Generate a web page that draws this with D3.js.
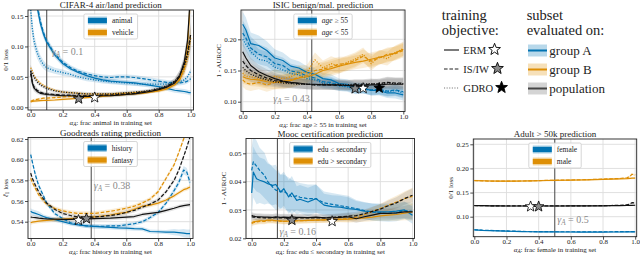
<!DOCTYPE html>
<html><head><meta charset="utf-8">
<script src="https://cdn.jsdelivr.net/npm/d3@7"></script>
<style>body{margin:0;background:#fff}svg{display:block}text{font-family:"Liberation Serif","DejaVu Serif",serif;fill:#222}</style>
</head><body><svg id="c" width="640" height="258"></svg>
<script>
// ---------------- DATA ----------------
const xTicks = [0, 0.2, 0.4, 0.6, 0.8, 1.0];
const objectives = ['ERM', 'IS/IW', 'GDRO'];
const subsets = ['group A', 'group B', 'population'];

// CIFAR-4
const cifarAlpha = [0,0.01,0.02,0.04,0.06,0.08,0.1,0.15,0.2,0.25,0.3,0.35,0.4,0.45,0.5,0.55,0.6,0.65,0.7,0.75,0.8,0.85,0.9,0.93,0.96,0.98,0.99,1.0];
const cifarA_ERM  = [0.45,0.32,0.24,0.165,0.138,0.12,0.107,0.086,0.072,0.063,0.057,0.052,0.048,0.045,0.043,0.042,0.041,0.04,0.038,0.036,0.034,0.031,0.028,0.027,0.026,0.025,0.024,0.024];
const cifarA_IW   = [0.45,0.33,0.25,0.17,0.142,0.123,0.109,0.088,0.074,0.065,0.059,0.055,0.052,0.05,0.049,0.05,0.05,0.049,0.047,0.045,0.043,0.041,0.04,0.04,0.041,0.043,0.045,0.047];
const cifarA_GDRO = [0.16,0.13,0.11,0.09,0.078,0.07,0.065,0.06,0.057,0.054,0.05,0.047,0.045,0.043,0.042,0.041,0.04,0.039,0.038,0.038,0.038,0.038,0.04,0.042,0.045,0.05,0.055,0.06];
const cifarB_ERM  = [0.009,0.0095,0.01,0.0105,0.011,0.0112,0.0115,0.012,0.013,0.014,0.015,0.016,0.017,0.018,0.019,0.02,0.021,0.022,0.023,0.025,0.027,0.03,0.037,0.045,0.065,0.1,0.14,0.2];
const cifarB_IW   = [0.01,0.011,0.012,0.013,0.014,0.015,0.015,0.016,0.017,0.018,0.018,0.019,0.02,0.02,0.021,0.022,0.023,0.024,0.025,0.026,0.028,0.032,0.04,0.048,0.065,0.085,0.1,0.12];
const cifarB_GDRO = [0.065,0.06,0.052,0.045,0.04,0.036,0.033,0.028,0.025,0.024,0.023,0.022,0.022,0.022,0.022,0.023,0.023,0.024,0.025,0.026,0.028,0.031,0.038,0.045,0.06,0.08,0.095,0.115];
const cifarP_ERM  = [0.06,0.04,0.032,0.026,0.023,0.022,0.021,0.02,0.019,0.019,0.018,0.018,0.018,0.019,0.019,0.02,0.021,0.022,0.024,0.026,0.029,0.033,0.04,0.05,0.075,0.11,0.15,0.2];
const cifarP_IW   = [0.055,0.042,0.034,0.028,0.025,0.023,0.022,0.021,0.02,0.02,0.019,0.019,0.019,0.02,0.02,0.021,0.022,0.023,0.025,0.027,0.03,0.034,0.042,0.052,0.07,0.09,0.105,0.12];
const cifarP_GDRO = [0.06,0.055,0.05,0.042,0.037,0.034,0.031,0.027,0.025,0.024,0.023,0.022,0.022,0.022,0.022,0.023,0.024,0.025,0.026,0.028,0.031,0.035,0.043,0.052,0.068,0.085,0.1,0.115];
const cifarBandA  = [0.02,0.015,0.012,0.01,0.008,0.007,0.006,0.005,0.005,0.004,0.004,0.004,0.004,0.004,0.004,0.004,0.004,0.004,0.004,0.004,0.004,0.004,0.004,0.004,0.004,0.004,0.004,0.004];
const cifarBandB  = [0.002,0.002,0.002,0.002,0.002,0.002,0.002,0.002,0.002,0.002,0.002,0.002,0.002,0.002,0.002,0.002,0.002,0.002,0.002,0.002,0.003,0.003,0.004,0.006,0.01,0.012,0.015,0.015];
const cifarBandP  = [0.01,0.008,0.006,0.004,0.003,0.003,0.003,0.003,0.003,0.003,0.003,0.003,0.003,0.003,0.003,0.003,0.003,0.003,0.003,0.003,0.003,0.004,0.005,0.008,0.012,0.015,0.02,0.02];
const cifarYTicks = [0, 0.05, 0.10, 0.15];
const cifarGroups = ['animal', 'vehicle'];
const cifarGamma = 0.1;
const cifarStarAlpha = [0.4, 0.3], cifarStarVal = [0.016, 0.014], cifarStarObj = ['ERM', 'IS/IW'];

// ISIC
const isicAlpha = [0,0.02,0.05,0.1,0.15,0.2,0.25,0.3,0.35,0.4,0.45,0.5,0.55,0.6,0.65,0.7,0.75,0.8,0.85,0.9,0.95,1.0];
const isicA_ERM  = [0.224,0.215,0.193,0.19,0.182,0.17,0.166,0.157,0.154,0.147,0.144,0.137,0.135,0.129,0.128,0.123,0.122,0.118,0.118,0.114,0.114,0.111];
const isicA_IW   = [0.21,0.202,0.186,0.176,0.172,0.161,0.158,0.149,0.147,0.141,0.138,0.132,0.131,0.126,0.125,0.121,0.121,0.119,0.12,0.117,0.119,0.116];
const isicA_GDRO = [0.2,0.192,0.18,0.168,0.165,0.155,0.151,0.145,0.143,0.137,0.135,0.13,0.129,0.125,0.124,0.12,0.121,0.118,0.119,0.116,0.118,0.114];
const isicB_ERM  = [0.14,0.138,0.136,0.135,0.132,0.131,0.133,0.134,0.138,0.14,0.144,0.15,0.153,0.157,0.16,0.163,0.165,0.168,0.171,0.174,0.178,0.184];
const isicB_IW   = [0.135,0.13,0.128,0.131,0.127,0.131,0.131,0.135,0.139,0.142,0.15,0.152,0.156,0.16,0.161,0.166,0.173,0.165,0.17,0.176,0.177,0.182];
const isicB_GDRO = [0.146,0.141,0.14,0.137,0.134,0.141,0.137,0.14,0.146,0.147,0.167,0.154,0.161,0.157,0.163,0.168,0.176,0.161,0.172,0.169,0.179,0.185];
const isicP_ERM  = [0.18,0.17,0.158,0.148,0.142,0.137,0.133,0.131,0.13,0.128,0.128,0.127,0.127,0.127,0.126,0.126,0.126,0.127,0.127,0.128,0.128,0.128];
const isicP_IW   = [0.165,0.158,0.15,0.143,0.138,0.134,0.132,0.13,0.129,0.128,0.127,0.127,0.127,0.126,0.126,0.127,0.127,0.128,0.129,0.131,0.13,0.13];
const isicP_GDRO = [0.155,0.15,0.144,0.139,0.135,0.132,0.13,0.129,0.128,0.128,0.127,0.128,0.127,0.128,0.127,0.128,0.128,0.129,0.128,0.13,0.129,0.129];
const isicBandA  = [0.02,0.02,0.018,0.016,0.015,0.014,0.013,0.012,0.011,0.01,0.01,0.009,0.009,0.008,0.008,0.008,0.008,0.008,0.008,0.008,0.009,0.009];
const isicBandB  = [0.011,0.011,0.011,0.011,0.011,0.011,0.011,0.012,0.012,0.012,0.012,0.012,0.012,0.012,0.011,0.011,0.011,0.011,0.011,0.011,0.011,0.011];
const isicBandP  = [0.015,0.014,0.012,0.011,0.01,0.009,0.009,0.008,0.008,0.008,0.008,0.008,0.008,0.008,0.008,0.008,0.008,0.008,0.008,0.009,0.009,0.009];
const isicYTicks = [0.10, 0.15, 0.20];
const isicGroups = ['age ≥ 55', 'age < 55'];
const isicGamma = 0.43;
const isicStarAlpha = [0.70, 0.75, 0.85], isicStarVal = [0.121, 0.1215, 0.122], isicStarObj = ['IS/IW', 'ERM', 'GDRO'];

// Goodreads
const goodAlpha = [0,0.01,0.03,0.05,0.08,0.1,0.15,0.2,0.25,0.3,0.35,0.4,0.45,0.5,0.55,0.6,0.65,0.7,0.75,0.8,0.85,0.9,0.93,0.96,0.98,1.0];
const goodA_ERM = [0.55,0.549,0.548,0.547,0.545,0.544,0.542,0.54,0.538,0.537,0.536,0.5355,0.535,0.5345,0.534,0.5338,0.5333,0.533,0.5305,0.5303,0.53,0.53,0.5295,0.529,0.5285,0.5285];
const goodA_IW  = [0.605,0.598,0.585,0.575,0.565,0.558,0.548,0.543,0.539,0.537,0.536,0.5355,0.5355,0.536,0.536,0.537,0.538,0.54,0.544,0.549,0.558,0.57,0.578,0.59,0.588,0.578];
const goodB_ERM = [0.539,0.5395,0.54,0.5405,0.541,0.5412,0.542,0.5425,0.543,0.5435,0.544,0.5447,0.5455,0.5465,0.548,0.549,0.552,0.555,0.556,0.558,0.561,0.565,0.568,0.571,0.572,0.5735];
const goodB_IW  = [0.582,0.578,0.572,0.566,0.56,0.557,0.553,0.5505,0.549,0.548,0.548,0.548,0.549,0.55,0.5515,0.553,0.555,0.558,0.562,0.569,0.582,0.595,0.607,0.62,0.63,0.64];
const goodP_ERM = [0.5445,0.5443,0.544,0.5435,0.543,0.5428,0.5425,0.5423,0.5423,0.5425,0.5428,0.543,0.5432,0.5435,0.544,0.5445,0.545,0.547,0.548,0.549,0.551,0.553,0.5545,0.5555,0.556,0.5565];
const goodP_IW  = [0.587,0.582,0.575,0.569,0.562,0.558,0.552,0.548,0.546,0.5445,0.5442,0.5445,0.5452,0.546,0.547,0.549,0.551,0.554,0.557,0.561,0.569,0.58,0.59,0.603,0.612,0.622];
const goodBandA = [0.003,0.003,0.003,0.003,0.002,0.002,0.002,0.002,0.002,0.002,0.002,0.002,0.002,0.002,0.002,0.002,0.002,0.002,0.002,0.002,0.002,0.003,0.003,0.004,0.004,0.004];
const goodBandB = [0.002,0.002,0.002,0.002,0.002,0.002,0.002,0.002,0.002,0.002,0.002,0.002,0.002,0.002,0.002,0.002,0.002,0.002,0.002,0.002,0.002,0.002,0.002,0.002,0.002,0.002];
const goodBandP = [0.002,0.002,0.002,0.002,0.002,0.002,0.002,0.002,0.002,0.002,0.002,0.002,0.002,0.002,0.002,0.002,0.002,0.002,0.002,0.002,0.002,0.002,0.002,0.002,0.002,0.002];
const goodYTicks = [0.54, 0.56, 0.58, 0.60, 0.62];
const goodGroups = ['history', 'fantasy'];
const goodGamma = 0.38;
const goodStarAlpha = [0.3, 0.35], goodStarVal = [0.5415, 0.543], goodStarObj = ['ERM', 'IS/IW'];

// Mooc
const moocAlpha = [0,0.01,0.03,0.05,0.08,0.1,0.13,0.15,0.18,0.2,0.23,0.25,0.28,0.3,0.35,0.4,0.45,0.5,0.55,0.6,0.65,0.7,0.75,0.8,0.85,0.9,0.95,1.0];
const moocA_ERM = [0.036,0.0434,0.041,0.0405,0.0399,0.0393,0.0387,0.039,0.0364,0.0375,0.0346,0.036,0.0334,0.0338,0.0328,0.034,0.0317,0.0312,0.031,0.0305,0.0302,0.0296,0.0294,0.0293,0.0293,0.0296,0.03,0.0281];
const moocA_IW  = [0.044,0.047,0.0455,0.044,0.0422,0.04,0.0381,0.037,0.0364,0.0365,0.0355,0.0346,0.035,0.0345,0.034,0.034,0.0325,0.032,0.0315,0.031,0.0305,0.0298,0.0292,0.029,0.0288,0.029,0.0298,0.0295];
const moocB_ERM = [0.0255,0.0258,0.026,0.0262,0.0262,0.0264,0.0264,0.0262,0.0262,0.026,0.0261,0.026,0.0262,0.0262,0.0263,0.0264,0.0265,0.0266,0.0267,0.0268,0.027,0.0272,0.0275,0.0279,0.0282,0.0284,0.0289,0.0293];
const moocB_IW  = [0.0252,0.0255,0.0258,0.026,0.026,0.0262,0.0262,0.0262,0.026,0.026,0.026,0.0261,0.0262,0.0262,0.0263,0.0264,0.0265,0.0267,0.0268,0.027,0.0275,0.0283,0.0295,0.0305,0.0317,0.0328,0.034,0.0348];
const moocP_ERM = [0.0281,0.0278,0.0276,0.0276,0.0275,0.0275,0.0274,0.0276,0.0274,0.0275,0.0274,0.0276,0.0274,0.0274,0.0273,0.0275,0.0272,0.0272,0.0274,0.0276,0.0269,0.0276,0.0282,0.0288,0.0288,0.029,0.0293,0.0293];
const moocP_IW  = [0.0276,0.0275,0.0274,0.0273,0.0272,0.0272,0.0272,0.0273,0.0272,0.0272,0.0272,0.0272,0.0272,0.0272,0.0272,0.0272,0.0272,0.0274,0.0276,0.0278,0.028,0.0287,0.0295,0.0303,0.0315,0.0325,0.034,0.0352];
const moocBandA = [0.008,0.009,0.009,0.008,0.008,0.007,0.007,0.007,0.006,0.006,0.006,0.006,0.005,0.005,0.005,0.005,0.004,0.004,0.004,0.004,0.003,0.003,0.003,0.003,0.003,0.003,0.003,0.003];
const moocBandB = [0.001,0.001,0.001,0.001,0.001,0.001,0.001,0.001,0.001,0.001,0.001,0.001,0.001,0.001,0.001,0.001,0.001,0.001,0.001,0.0012,0.0013,0.0014,0.0015,0.0017,0.002,0.0022,0.0025,0.003];
const moocBandP = [0.0012,0.0012,0.0012,0.0012,0.0012,0.0012,0.0012,0.0012,0.0012,0.0012,0.0012,0.0012,0.0012,0.0012,0.0012,0.0012,0.0012,0.0012,0.0012,0.0013,0.0014,0.0015,0.0016,0.0017,0.0018,0.002,0.0022,0.0025];
const moocYTicks = [0.02, 0.03, 0.04, 0.05];
const moocGroups = ['edu ≤ secondary', 'edu > secondary'];
const moocGamma = 0.16;
const moocStarAlpha = [0.25, 0.5], moocStarVal = [0.0264, 0.026], moocStarObj = ['IS/IW', 'ERM'];

// Adult
const adultAlpha = [0,0.05,0.1,0.15,0.2,0.25,0.3,0.35,0.4,0.45,0.5,0.55,0.6,0.65,0.7,0.75,0.8,0.85,0.9,0.95,0.97,0.98,1.0];
const adultA_ERM = [0.0725,0.0715,0.071,0.0705,0.07,0.0695,0.069,0.0688,0.0686,0.0685,0.0684,0.0683,0.0683,0.0682,0.0682,0.0682,0.0682,0.0683,0.0683,0.0684,0.0685,0.0686,0.0686];
const adultA_IW  = [0.073,0.072,0.0715,0.071,0.0705,0.07,0.0695,0.0692,0.069,0.069,0.0688,0.0688,0.0688,0.0688,0.0688,0.0688,0.0688,0.0688,0.069,0.069,0.0695,0.069,0.0692];
const adultB_ERM = [0.1748,0.1745,0.174,0.1738,0.1737,0.1738,0.174,0.1742,0.1745,0.175,0.1752,0.1755,0.1758,0.176,0.1765,0.177,0.1775,0.178,0.1785,0.179,0.1795,0.1798,0.18];
const adultB_IW  = [0.175,0.1742,0.1738,0.1737,0.1737,0.1738,0.174,0.1743,0.1747,0.1752,0.1755,0.1758,0.176,0.1763,0.1768,0.1773,0.1778,0.1785,0.179,0.1805,0.1845,0.188,0.1865];
const adultP_ERM = [0.123,0.1228,0.1225,0.1223,0.1222,0.1222,0.1222,0.1222,0.1222,0.1222,0.1222,0.1222,0.1223,0.1223,0.1224,0.1225,0.1226,0.1228,0.123,0.1232,0.1234,0.1235,0.1237];
const adultP_IW  = [0.1232,0.123,0.1226,0.1224,0.1223,0.1223,0.1223,0.1223,0.1223,0.1223,0.1223,0.1223,0.1224,0.1225,0.1226,0.1227,0.1229,0.1232,0.1236,0.1245,0.127,0.129,0.1285];
const adultBandA = [0.001,0.001,0.001,0.001,0.001,0.001,0.001,0.001,0.001,0.001,0.001,0.001,0.001,0.001,0.001,0.001,0.001,0.001,0.001,0.001,0.001,0.001,0.001];
const adultBandB = [0.0015,0.0015,0.0015,0.0015,0.0015,0.0015,0.0015,0.0015,0.0015,0.0015,0.0015,0.0015,0.0015,0.0015,0.0015,0.0015,0.0015,0.0015,0.0015,0.0015,0.002,0.002,0.002];
const adultBandP = [0.0012,0.0012,0.0012,0.0012,0.0012,0.0012,0.0012,0.0012,0.0012,0.0012,0.0012,0.0012,0.0012,0.0012,0.0012,0.0012,0.0012,0.0012,0.0012,0.0012,0.0015,0.0015,0.0015];
const adultYTicks = [0.10, 0.15, 0.20, 0.25];
const adultGroups = ['female', 'male'];
const adultGamma = 0.5;
const adultStarAlpha = [0.35, 0.4], adultStarVal = [0.121, 0.121], adultStarObj = ['ERM', 'IS/IW'];

// ---------------- STYLE ----------------
const COL = {A: '#0173B2', B: '#DE8F05', P: '#111111'};
const BANDCOL = {A: '#0173B2', B: '#DE8F05', P: '#666666'};
const DASH = {'ERM': null, 'IS/IW': '3.6,1.8', 'GDRO': '1.1,1.5'};
const STARFILL = {'ERM': '#ffffff', 'IS/IW': '#8a8a8a', 'GDRO': '#000000'};

const svg = d3.select('#c');

function starPath(cx, cy, R) {
  const r = R * 0.42, pts = [];
  for (let k = 0; k < 10; k++) {
    const a = -Math.PI / 2 + k * Math.PI / 5, rr = k % 2 ? r : R;
    pts.push([cx + rr * Math.cos(a), cy + rr * Math.sin(a)]);
  }
  return 'M' + pts.map(p => p[0].toFixed(2) + ',' + p[1].toFixed(2)).join('L') + 'Z';
}

function rich(sel, segs, size) {
  let shifted = 0;
  segs.forEach(s => {
    const t = sel.append('tspan').text(s.t);
    if (s.i) t.attr('font-style', 'italic');
    const want = s.sub ? size * 0.2 : 0;
    if (want !== shifted) { t.attr('dy', want - shifted); shifted = want; }
    if (s.sub) t.attr('font-size', size * 0.72);
  });
}
const alphaA = [{t: 'α', i: true}, {t: 'A', i: true, sub: true}];

const panels = [
  {id: 'cifar', title: 'CIFAR-4 air/land prediction', L: 28, R: 193.5, T: 10, B: 110, x0: 30.7, x1: 190.7,
   yDom: [0, 0.15], yRange: [107.3, 16], yTicks: cifarYTicks, alpha: cifarAlpha,
   series: [['A','ERM',cifarA_ERM],['A','IS/IW',cifarA_IW],['A','GDRO',cifarA_GDRO],
            ['B','ERM',cifarB_ERM],['B','IS/IW',cifarB_IW],['B','GDRO',cifarB_GDRO],
            ['P','ERM',cifarP_ERM],['P','IS/IW',cifarP_IW],['P','GDRO',cifarP_GDRO]],
   bands: {A: cifarBandA, B: cifarBandB, P: cifarBandP}, groups: cifarGroups, groupItalic: false,
   gamma: cifarGamma, gammaDx: 5, gammaY: 55, gammaAnchor: 'start', titleDy: 2,
   stars: [cifarStarAlpha, cifarStarVal, cifarStarObj],
   ylabel: [{t: '0/1 loss'}], xlabel: alphaA.concat([{t: ': frac animal in training set'}])},
  {id: 'isic', title: 'ISIC benign/mal. prediction', L: 241, R: 405, T: 10, B: 111.5, x0: 242.7, x1: 403.3,
   yDom: [0.10, 0.20], yRange: [101.7, 39.3], yTicks: isicYTicks, alpha: isicAlpha,
   series: [['A','ERM',isicA_ERM],['A','IS/IW',isicA_IW],['A','GDRO',isicA_GDRO],
            ['B','ERM',isicB_ERM],['B','IS/IW',isicB_IW],['B','GDRO',isicB_GDRO],
            ['P','ERM',isicP_ERM],['P','IS/IW',isicP_IW],['P','GDRO',isicP_GDRO]],
   bands: {A: isicBandA, B: isicBandB, P: isicBandP}, groups: isicGroups, groupItalic: true,
   gamma: isicGamma, gammaDx: -2, gammaY: 102, gammaAnchor: 'end', titleDy: 2,
   stars: [isicStarAlpha, isicStarVal, isicStarObj],
   ylabel: [{t: '1 - AUROC'}], xlabel: alphaA.concat([{t: ': frac age ≥ 55 in training set'}])},
  {id: 'good', title: 'Goodreads rating prediction', L: 28, R: 193, T: 137.5, B: 238.5, x0: 30.7, x1: 190,
   yDom: [0.54, 0.62], yRange: [221.7, 139], yTicks: goodYTicks, alpha: goodAlpha,
   series: [['A','ERM',goodA_ERM],['A','IS/IW',goodA_IW],
            ['B','ERM',goodB_ERM],['B','IS/IW',goodB_IW],
            ['P','ERM',goodP_ERM],['P','IS/IW',goodP_IW]],
   bands: {A: goodBandA, B: goodBandB, P: goodBandP}, groups: goodGroups, groupItalic: false,
   gamma: goodGamma, gammaDx: 2.5, gammaY: 189, gammaAnchor: 'start', titleDy: 1.5,
   stars: [goodStarAlpha, goodStarVal, goodStarObj],
   ylabel: [{t: 'ℓ', i: true}, {t: '1', sub: true}, {t: ' loss'}], xlabel: alphaA.concat([{t: ': frac history in training set'}])},
  {id: 'mooc', title: 'Mooc certification prediction', L: 246, R: 414.5, T: 138.5, B: 238.5, x0: 251.7, x1: 412.5,
   yDom: [0.02, 0.05], yRange: [238.3, 153.3], yTicks: moocYTicks, alpha: moocAlpha,
   series: [['A','ERM',moocA_ERM],['A','IS/IW',moocA_IW],
            ['B','ERM',moocB_ERM],['B','IS/IW',moocB_IW],
            ['P','ERM',moocP_ERM],['P','IS/IW',moocP_IW]],
   bands: {A: moocBandA, B: moocBandB, P: moocBandP}, groups: moocGroups, groupItalic: false,
   gamma: moocGamma, gammaDx: 2, gammaY: 235, gammaAnchor: 'start', titleDy: 1.2,
   stars: [moocStarAlpha, moocStarVal, moocStarObj],
   ylabel: [{t: '1 - AUROC'}], xlabel: alphaA.concat([{t: ': frac edu ≤ secondary in training set'}])},
  {id: 'adult', title: 'Adult > 50k prediction', L: 473.3, R: 636.7, T: 139, B: 236.7, x0: 474.3, x1: 635.2,
   yDom: [0.10, 0.25], yRange: [216.7, 144.3], yTicks: adultYTicks, alpha: adultAlpha,
   series: [['A','ERM',adultA_ERM],['A','IS/IW',adultA_IW],
            ['B','ERM',adultB_ERM],['B','IS/IW',adultB_IW],
            ['P','ERM',adultP_ERM],['P','IS/IW',adultP_IW]],
   bands: {A: adultBandA, B: adultBandB, P: adultBandP}, groups: adultGroups, groupItalic: false,
   gamma: adultGamma, gammaDx: 2.5, gammaY: 223, gammaAnchor: 'start', titleDy: 2,
   stars: [adultStarAlpha, adultStarVal, adultStarObj],
   ylabel: [{t: '0/1 loss'}], xlabel: alphaA.concat([{t: ': frac female in training set'}])}
];

panels.forEach(p => {
  const x = d3.scaleLinear().domain([0, 1]).range([p.x0, p.x1]);
  const y = d3.scaleLinear().domain(p.yDom).range(p.yRange);
  const g = svg.append('g');
  const clipId = 'clip-' + p.id;
  svg.append('clipPath').attr('id', clipId).append('rect')
    .attr('x', p.L).attr('y', p.T).attr('width', p.R - p.L).attr('height', p.B - p.T);

  // grid
  g.selectAll('.gx').data(xTicks).enter().append('line')
    .attr('x1', d => x(d)).attr('x2', d => x(d)).attr('y1', p.T).attr('y2', p.B)
    .attr('stroke', '#dcdcdc').attr('stroke-width', 0.9);
  g.selectAll('.gy').data(p.yTicks).enter().append('line')
    .attr('x1', p.L).attr('x2', p.R).attr('y1', d => y(d)).attr('y2', d => y(d))
    .attr('stroke', '#dcdcdc').attr('stroke-width', 0.9);

  const plot = g.append('g').attr('clip-path', 'url(#' + clipId + ')');
  // bands
  p.series.forEach(([grp, obj, vals]) => {
    const band = p.bands[grp];
    const area = d3.area().x((d, i) => x(p.alpha[i])).y0((d, i) => y(d - band[i])).y1((d, i) => y(d + band[i]));
    plot.append('path').attr('d', area(vals)).attr('fill', BANDCOL[grp]).attr('fill-opacity', grp === 'P' ? 0.18 : 0.16);
  });
  // gamma line
  plot.append('line').attr('x1', x(p.gamma)).attr('x2', x(p.gamma)).attr('y1', p.T).attr('y2', p.B)
    .attr('stroke', '#555').attr('stroke-width', 1.1);
  // lines
  p.series.forEach(([grp, obj, vals]) => {
    const line = d3.line().x((d, i) => x(p.alpha[i])).y(d => y(d));
    const path = plot.append('path').attr('d', line(vals)).attr('fill', 'none')
      .attr('stroke', COL[grp]).attr('stroke-width', obj === 'GDRO' ? 1.3 : 1.2)
      .attr('stroke-linejoin', 'round');
    if (DASH[obj]) path.attr('stroke-dasharray', DASH[obj]);
  });
  // stars
  const [sa, sv, so] = p.stars;
  sa.forEach((a, i) => {
    plot.append('path').attr('d', starPath(x(a), y(sv[i]), 5.6))
      .attr('fill', STARFILL[so[i]]).attr('stroke', '#000').attr('stroke-width', 0.8);
  });
  // gamma text
  const gt = g.append('text').attr('x', x(p.gamma) + p.gammaDx).attr('y', p.gammaY)
    .attr('font-size', 10).attr('text-anchor', p.gammaAnchor).style('fill', '#8a8a8a');
  rich(gt, [{t: 'γ', i: true}, {t: 'A', i: true, sub: true}, {t: ' = ' + p.gamma}], 10);

  // frame
  g.append('rect').attr('x', p.L).attr('y', p.T).attr('width', p.R - p.L).attr('height', p.B - p.T)
    .attr('fill', 'none').attr('stroke', '#222').attr('stroke-width', 0.9);

  // axes
  const ax = g.append('g').attr('transform', `translate(0,${p.B})`)
    .call(d3.axisBottom(x).tickValues(xTicks).tickFormat(d3.format('.1f')).tickSize(3).tickSizeOuter(0));
  const ay = g.append('g').attr('transform', `translate(${p.L},0)`)
    .call(d3.axisLeft(y).tickValues(p.yTicks).tickFormat(d3.format('.2f')).tickSize(3).tickSizeOuter(0));
  [ax, ay].forEach(a => {
    a.select('.domain').remove();
    a.selectAll('line').attr('stroke', '#222').attr('stroke-width', 0.8);
    a.selectAll('text').attr('font-size', 7).attr('font-family', '"Liberation Serif",serif').style('fill', '#222');
  });
  ax.selectAll('text').attr('dy', null).attr('y', 7.2);
  ay.selectAll('text').attr('x', -4.5);

  // labels
  g.append('text').attr('x', (p.L + p.R) / 2).attr('y', p.T - p.titleDy).attr('text-anchor', 'middle')
    .attr('font-size', 9).text(p.title);
  const xl = g.append('text').attr('x', (p.L + p.R) / 2).attr('y', p.B + 15).attr('text-anchor', 'middle').attr('font-size', 7);
  rich(xl, p.xlabel, 7);
  const yl = g.append('text').attr('transform', `translate(${p.L - 20.5},${(p.T + p.B) / 2}) rotate(-90)`)
    .attr('text-anchor', 'middle').attr('font-size', 7);
  rich(yl, p.ylabel, 7);

  // in-panel legend
  const lg = g.append('g');
  const top = p.T + 4, cx = (p.L + p.R) / 2;
  const texts = p.groups.map((lab, i) => {
    const t = lg.append('text').attr('y', top + 6.5 + i * 12 + 2.6).attr('font-size', 7.5);
    if (p.groupItalic) {
      const parts = lab.split(' ');
      t.append('tspan').attr('font-style', 'italic').text(parts[0]);
      t.append('tspan').text(' ' + parts.slice(1).join(' '));
    } else t.text(lab);
    return t;
  });
  const tw = d3.max(texts, t => t.node().getComputedTextLength());
  const w = 4 + 19 + 5 + tw + 4, left = cx - w / 2;
  lg.insert('rect', ':first-child').attr('x', left).attr('y', top).attr('width', w).attr('height', 25)
    .attr('rx', 1.5).attr('fill', '#fff').attr('fill-opacity', 0.85).attr('stroke', '#ccc').attr('stroke-width', 0.8);
  texts.forEach(t => t.attr('x', left + 28));
  ['A', 'B'].forEach((grp, i) => {
    const yy = top + 6.5 + i * 12;
    lg.append('rect').attr('x', left + 4).attr('y', yy - 4).attr('width', 19).attr('height', 8)
      .attr('fill', COL[grp]).attr('fill-opacity', 0.35);
    lg.append('rect').attr('x', left + 4).attr('y', yy - 2.6).attr('width', 19).attr('height', 5.2)
      .attr('fill', COL[grp]);
  });
});

// ---------------- top-right legend ----------------
const L = svg.append('g');
[['training', 441.7, 20], ['objective:', 441.7, 34.5], ['subset', 526.7, 20], ['evaluated on:', 526.7, 34.5]]
  .forEach(([t, xx, yy]) => L.append('text').attr('x', xx).attr('y', yy).attr('font-size', 14.5).text(t));
const rowsY = [50, 69, 88];
objectives.forEach((o, i) => {
  const yy = rowsY[i];
  const ln = L.append('line').attr('x1', 444).attr('x2', 459).attr('y1', yy).attr('y2', yy)
    .attr('stroke', o === 'GDRO' ? '#777' : '#222').attr('stroke-width', 1.2);
  if (DASH[o]) ln.attr('stroke-dasharray', DASH[o]);
  const t = L.append('text').attr('x', 463.3).attr('y', yy + 3.6).attr('font-size', 10.5).text(o);
  const end = 463.3 + t.node().getComputedTextLength();
  L.append('path').attr('d', starPath(end + 8.5, yy - 0.5, 6.2))
    .attr('fill', STARFILL[o]).attr('stroke', '#000').attr('stroke-width', 0.9);
});
['A', 'B', 'P'].forEach((grp, i) => {
  const yy = rowsY[i] + 0.5;
  L.append('rect').attr('x', 528).attr('y', yy - 6).attr('width', 19).attr('height', 12)
    .attr('fill', BANDCOL[grp]).attr('fill-opacity', 0.28);
  L.append('line').attr('x1', 528).attr('x2', 547).attr('y1', yy).attr('y2', yy)
    .attr('stroke', grp === 'P' ? '#444' : COL[grp]).attr('stroke-width', 2);
  L.append('text').attr('x', 549.3).attr('y', yy + 4).attr('font-size', 13).text(subsets[i]);
});
</script></body></html>
